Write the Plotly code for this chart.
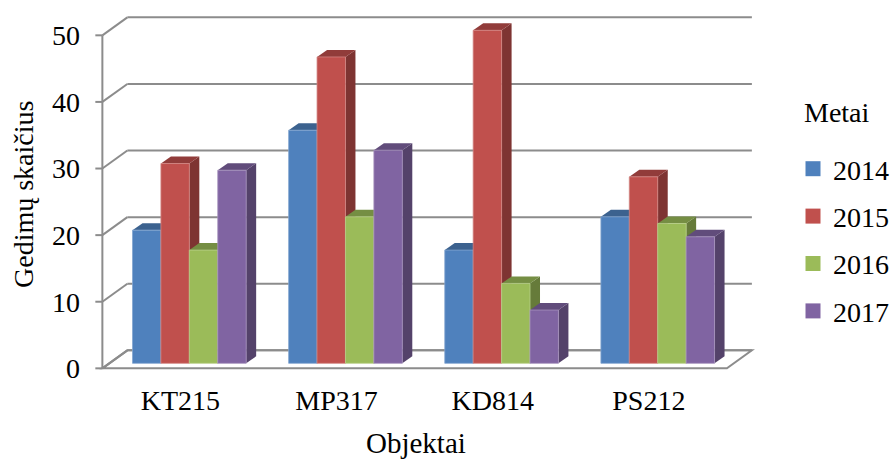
import plotly.graph_objects as go

# ---- data -------------------------------------------------------------
categories = ["KT215", "MP317", "KD814", "PS212"]
years = ["2014", "2015", "2016", "2017"]
values_2014 = [20, 35, 17, 22]
values_2015 = [30, 46, 50, 28]
values_2016 = [17, 22, 12, 21]
values_2017 = [29, 32, 8, 19]
series = [values_2014, values_2015, values_2016, values_2017]
colors = ["#4F81BD", "#C0504D", "#9BBB59", "#8064A2"]
y_ticks = [0, 10, 20, 30, 40, 50]

# ---- 3-D look geometry (in axis units) --------------------------------
X_LEFT, X_RIGHT = -0.5, 3.5      # front plane extent
WALL_DX, WALL_DY = 0.16, 2.7     # depth offset of the back wall
BAR_W = 0.182                    # width of one bar's front face
BAR_OFF0 = -0.307                # left edge of first bar relative to category
BAR_BASE = 0.75                  # bars stand a little behind the front edge
SIDE_DX, SIDE_DY = 0.064, 1.05   # visible depth of each bar
TICK_LEN = 0.045
LINE_COL = "#8C8C8C"
FONT = "Liberation Serif, Times New Roman, DejaVu Serif, serif"


def shade(hex_col, f):
    r, g, b = (int(hex_col[i:i + 2], 16) for i in (1, 3, 5))
    return "rgb({},{},{})".format(int(r * f), int(g * f), int(b * f))


def tint(hex_col, f):
    r, g, b = (int(hex_col[i:i + 2], 16) for i in (1, 3, 5))
    return "rgb({},{},{})".format(int(r + (255 - r) * f),
                                  int(g + (255 - g) * f),
                                  int(b + (255 - b) * f))


def poly(pts):
    return "M " + " L ".join("{:.4f},{:.4f}".format(x, y) for x, y in pts) + " Z"


shapes = []

# floor
shapes.append(dict(
    type="path", xref="x", yref="y", layer="below",
    path=poly([(X_LEFT, 0), (X_RIGHT, 0), (X_RIGHT + WALL_DX, WALL_DY),
               (X_LEFT + WALL_DX, WALL_DY)]),
    fillcolor="white", line=dict(color=LINE_COL, width=2)))

# back-wall gridlines, side-wall diagonals and tick marks
for v in y_ticks:
    shapes.append(dict(type="line", xref="x", yref="y", layer="below",
                       x0=X_LEFT + WALL_DX, y0=v + WALL_DY,
                       x1=X_RIGHT + WALL_DX, y1=v + WALL_DY,
                       line=dict(color=LINE_COL, width=2)))
    shapes.append(dict(type="line", xref="x", yref="y", layer="below",
                       x0=X_LEFT, y0=v, x1=X_LEFT + WALL_DX, y1=v + WALL_DY,
                       line=dict(color=LINE_COL, width=2)))
    shapes.append(dict(type="line", xref="x", yref="y", layer="below",
                       x0=X_LEFT - TICK_LEN, y0=v, x1=X_LEFT, y1=v,
                       line=dict(color=LINE_COL, width=2)))

# front vertical axis line
shapes.append(dict(type="line", xref="x", yref="y", layer="below",
                   x0=X_LEFT, y0=0, x1=X_LEFT, y1=max(y_ticks),
                   line=dict(color=LINE_COL, width=2)))

# side and top faces of the bars (front faces are the bar traces)
for i in range(len(categories)):
    for k, vals in enumerate(series):
        xl = i + BAR_OFF0 + k * BAR_W
        xr = xl + BAR_W
        b = BAR_BASE
        t = vals[i] + BAR_BASE
        shapes.append(dict(
            type="path", xref="x", yref="y", layer="below",
            path=poly([(xr, b), (xr + SIDE_DX, b + SIDE_DY),
                       (xr + SIDE_DX, t + SIDE_DY), (xr, t)]),
            fillcolor=shade(colors[k], 0.66), line=dict(width=0)))
        shapes.append(dict(
            type="path", xref="x", yref="y", layer="below",
            path=poly([(xl, t), (xl + SIDE_DX, t + SIDE_DY),
                       (xr + SIDE_DX, t + SIDE_DY), (xr, t)]),
            fillcolor=shade(colors[k], 0.76), line=dict(width=0)))

fig = go.Figure()

x_pos = list(range(len(categories)))
for k, (year, vals) in enumerate(zip(years, series)):
    fig.add_trace(go.Bar(
        x=x_pos, y=vals, base=BAR_BASE, width=BAR_W,
        offset=BAR_OFF0 + k * BAR_W,
        marker=dict(color=colors[k],
                    line=dict(width=0.8, color=tint(colors[k], 0.3))),
        name=year, showlegend=False, hoverinfo="skip"))

# legend entries with square swatches
for k, year in enumerate(years):
    fig.add_trace(go.Scatter(
        x=[None], y=[None], mode="markers", name=year,
        legendgroup=year,
        marker=dict(symbol="square", size=15, color=colors[k])))

fig.update_layout(
    width=894, height=460,
    margin=dict(l=93, r=139, t=16, b=89),
    paper_bgcolor="white", plot_bgcolor="white",
    barmode="overlay",
    shapes=shapes,
    font=dict(family=FONT, size=28, color="black"),
    showlegend=True,
    legend=dict(
        xref="container", yref="container",
        x=793 / 894, y=1 - 144 / 460, xanchor="left", yanchor="top",
        font=dict(family=FONT, size=28, color="black"),
        traceorder="grouped", tracegroupgap=8,
        bgcolor="rgba(0,0,0,0)"),
    xaxis=dict(range=[-0.56, 3.68], tickvals=x_pos, ticktext=categories,
               showgrid=False, zeroline=False, showline=False, ticks="",
               ticklabelstandoff=10, fixedrange=True,
               tickfont=dict(family=FONT, size=28, color="black")),
    yaxis=dict(range=[-0.4, 52.9], tickvals=y_ticks,
               showgrid=False, zeroline=False, showline=False, ticks="",
               ticklabelstandoff=12, fixedrange=True,
               tickfont=dict(family=FONT, size=28, color="black")),
    annotations=[
        dict(text="Metai", xref="paper", yref="paper",
             x=(837 - 93) / 662, y=(371 - 113) / 355,
             xanchor="center", yanchor="middle", showarrow=False,
             font=dict(family=FONT, size=28, color="black")),
        dict(text="Objektai", xref="paper", yref="paper",
             x=(416 - 93) / 662, y=-(443 - 371) / 355,
             xanchor="center", yanchor="middle", showarrow=False,
             font=dict(family=FONT, size=29, color="black")),
        dict(text="Gedimų skaičius", xref="paper", yref="paper",
             x=-(93 - 23) / 662, y=(371 - 195) / 355, textangle=-90,
             xanchor="center", yanchor="middle", showarrow=False,
             font=dict(family=FONT, size=28, color="black")),
    ],
)

fig.write_html("out.html")
